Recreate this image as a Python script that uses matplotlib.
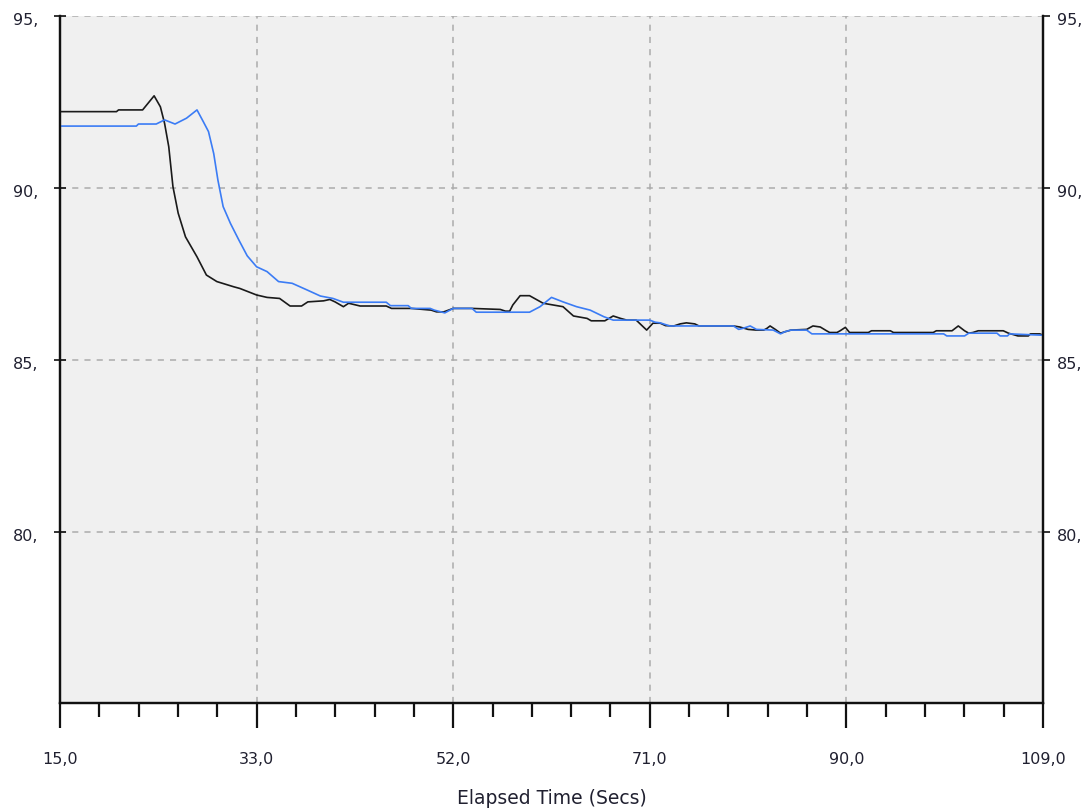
import matplotlib
matplotlib.use("Agg")
import matplotlib.pyplot as plt
import matplotlib.transforms as mtransforms
import numpy as np

# ---- data ----
black_t = [15, 20.4, 20.6, 22.9, 24.0, 24.6, 25.0, 25.4, 25.8, 26.3, 27.0, 28.1, 29.0, 30.0,
           31.6, 32.2, 33.8, 34.8, 36.0, 37.0, 38.1, 38.7, 40.2, 40.8, 41.3, 42.1, 42.6, 43.7,
           46.2, 46.7, 47.3, 48.6, 50.5, 51.0, 51.7, 52.6, 54.4, 57.1, 57.6, 58.0, 58.3, 59.0,
           59.9, 61.2, 63.1, 64.1, 65.4, 65.8, 67.1, 67.9, 68.6, 69.2, 70.1, 71.1, 71.7, 72.4,
           72.9, 73.7, 74.3, 74.9, 75.7, 76.1, 79.4, 80.0, 80.8, 81.6, 82.3, 82.6, 82.9, 83.4,
           83.9, 84.3, 84.9, 86.4, 87.0, 87.7, 88.3, 88.6, 89.3, 89.6, 90.1, 90.5, 92.3, 92.6,
           94.4, 94.7, 98.5, 98.8, 100.3, 100.9, 101.5, 101.9, 102.3, 102.8, 105.2, 105.7,
           106.6, 107.6, 107.8, 108.7, 109]
black_v = [92.22, 92.22, 92.27, 92.27, 92.68, 92.36, 91.88, 91.20, 90.04, 89.27, 88.58, 88.00,
           87.47, 87.28, 87.13, 87.08, 86.89, 86.82, 86.79, 86.57, 86.57, 86.69, 86.72, 86.76,
           86.69, 86.55, 86.65, 86.57, 86.57, 86.50, 86.50, 86.50, 86.45, 86.40, 86.40, 86.50,
           86.50, 86.47, 86.42, 86.42, 86.60, 86.87, 86.87, 86.65, 86.55, 86.28, 86.21, 86.14,
           86.14, 86.28, 86.21, 86.16, 86.16, 85.87, 86.07, 86.07, 86.00, 85.99, 86.05, 86.08,
           86.05, 85.99, 85.99, 85.96, 85.89, 85.87, 85.87, 85.92, 85.99, 85.89, 85.78, 85.82,
           85.87, 85.89, 85.99, 85.96, 85.85, 85.80, 85.80, 85.85, 85.95, 85.80, 85.80, 85.85,
           85.85, 85.80, 85.80, 85.85, 85.85, 85.99, 85.85, 85.78, 85.80, 85.85, 85.85, 85.78,
           85.70, 85.70, 85.76, 85.76, 85.72]

blue_t = [15, 22.3, 22.5, 24.2, 25.0, 26.0, 27.1, 28.1, 28.7, 29.2, 29.7, 30.1, 30.6, 31.3,
          32.1, 32.9, 33.8, 34.8, 35.9, 37.2, 38.6, 39.9, 41.1, 42.1, 46.2, 46.6, 48.3, 48.6,
          50.4, 50.8, 51.8, 52.6, 54.4, 54.8, 59.9, 60.9, 62.0, 63.1, 64.4, 65.7, 67.0, 67.9,
          71.4, 71.9, 72.4, 73.3, 79.4, 79.9, 80.3, 81.0, 81.6, 83.2, 83.9, 84.3, 84.9, 86.4,
          86.9, 99.5, 99.8, 101.5, 101.9, 104.6, 104.9, 105.6, 105.8, 109]
blue_v = [91.80, 91.80, 91.86, 91.86, 91.98, 91.86, 92.03, 92.27, 91.93, 91.64, 91.00, 90.23,
          89.46, 88.97, 88.49, 88.03, 87.71, 87.57, 87.28, 87.23, 87.04, 86.86, 86.79, 86.68,
          86.68, 86.58, 86.58, 86.50, 86.50, 86.45, 86.37, 86.50, 86.50, 86.39, 86.39, 86.55,
          86.82, 86.69, 86.55, 86.45, 86.26, 86.16, 86.16, 86.10, 86.08, 85.99, 85.99, 85.89,
          85.92, 85.99, 85.89, 85.87, 85.76, 85.82, 85.87, 85.87, 85.76, 85.76, 85.70, 85.70,
          85.78, 85.78, 85.70, 85.70, 85.76, 85.72]

x_ticks = [15.0, 33.8, 52.6, 71.4, 90.2, 109.0]
x_tick_labels = ["15,0", "33,0", "52,0", "71,0", "90,0", "109,0"]
y_ticks = [80, 85, 90, 95]
y_tick_labels = ["80,", "85,", "90,", "95,"]
x_label = "Elapsed Time (Secs)"

TXT = "#202030"

# ---- figure ----
fig = plt.figure(figsize=(10.92, 8.09), dpi=100)
ax = fig.add_axes([60/1092, 1-703/809, (1043-60)/1092, (703-16)/809])
ax.set_facecolor("#f0f0f0")

ax.plot(black_t, black_v, color="#1a1a1a", lw=1.2, zorder=3)
ax.plot(blue_t, blue_v, color="#3b7cf5", lw=1.2, zorder=4)

ax.set_xlim(15, 109)
ax.set_ylim(75.03, 95)

ax.set_xticks(x_ticks)
ax.set_xticklabels(x_tick_labels)
minor = []
for a, b in zip(x_ticks[:-1], x_ticks[1:]):
    minor += list(np.linspace(a, b, 6)[1:-1])
ax.set_xticks(minor, minor=True)
ax.tick_params(axis="x", which="major", direction="out", length=18, width=1.6,
               pad=17, labelsize=11.5, labelcolor=TXT, color="#111")
ax.tick_params(axis="x", which="minor", direction="out", length=10, width=1.6, color="#111")

# left y axis
ax.set_yticks(y_ticks)
ax.set_yticklabels(y_tick_labels)
ax.tick_params(axis="y", which="major", direction="inout", length=8, width=1.2,
               left=True, right=False, labelsize=11.5, labelcolor=TXT, color="#111", pad=11.5)

# right y axis
ax2 = ax.twinx()
ax2.set_ylim(ax.get_ylim())
ax2.set_yticks(y_ticks)
ax2.set_yticklabels(y_tick_labels)
ax2.tick_params(axis="y", which="major", direction="out", length=5, width=1.2,
                labelsize=11.5, labelcolor=TXT, color="#111", pad=5)

shift = mtransforms.ScaledTranslation(0, -3/100, fig.dpi_scale_trans)
for a in (ax, ax2):
    for lab in a.get_yticklabels():
        lab.set_transform(lab.get_transform() + shift)

ax.grid(True, which="major", color="#ababab", linestyle=(0, (4, 4)), lw=1.1)
ax.set_axisbelow(True)

for a in (ax, ax2):
    for s in ["left", "right", "bottom"]:
        a.spines[s].set_color("#111")
        a.spines[s].set_linewidth(1.6)
    a.spines["top"].set_visible(False)

ax.set_xlabel(x_label, fontsize=13.5, color=TXT, labelpad=16)

fig.savefig("out.png", dpi=100, facecolor="white")
